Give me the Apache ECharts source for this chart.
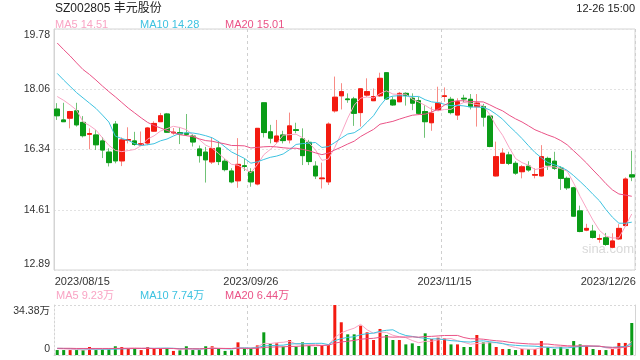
<!DOCTYPE html>
<html><head><meta charset="utf-8">
<script src="https://cdn.jsdelivr.net/npm/echarts@6/dist/echarts.min.js"></script>
<style>html,body{margin:0;padding:0;background:#fff}#c{width:640px;height:360px}</style>
</head><body><div id="c"></div>
<script>
const dates = [
'2023/08/15','2023/08/16','2023/08/17','2023/08/18','2023/08/21','2023/08/22','2023/08/23','2023/08/24','2023/08/25','2023/08/28',
'2023/08/29','2023/08/30','2023/08/31','2023/09/01','2023/09/04','2023/09/05','2023/09/06','2023/09/07','2023/09/08','2023/09/11',
'2023/09/12','2023/09/13','2023/09/14','2023/09/15','2023/09/18','2023/09/19','2023/09/20','2023/09/21','2023/09/22','2023/09/25',
'2023/09/26','2023/09/27','2023/09/28','2023/10/09','2023/10/10','2023/10/11','2023/10/12','2023/10/13','2023/10/16','2023/10/17',
'2023/10/18','2023/10/19','2023/10/20','2023/10/23','2023/10/24','2023/10/25','2023/10/26','2023/10/27','2023/10/30','2023/10/31',
'2023/11/01','2023/11/02','2023/11/03','2023/11/06','2023/11/07','2023/11/08','2023/11/09','2023/11/10','2023/11/13','2023/11/14',
'2023/11/15','2023/11/16','2023/11/17','2023/11/20','2023/11/21','2023/11/22','2023/11/23','2023/11/24','2023/11/27','2023/11/28',
'2023/11/29','2023/11/30','2023/12/01','2023/12/04','2023/12/05','2023/12/06','2023/12/07','2023/12/08','2023/12/11','2023/12/12',
'2023/12/13','2023/12/14','2023/12/15','2023/12/18','2023/12/19','2023/12/20','2023/12/21','2023/12/22','2023/12/25','2023/12/26'];
const shownDates = ['2023/08/15','2023/09/26','2023/11/15','2023/12/26'];
const splitDates = ['2023/09/26','2023/11/15'];

const opens = [17.49,17.18,17.23,17.44,17.11,16.77,16.75,16.58,16.26,17.06,
16.01,16.60,16.58,16.47,16.52,16.86,17.13,17.35,16.81,16.82,
16.80,16.72,16.35,16.26,15.98,16.38,16.00,15.72,15.44,15.87,
15.70,15.35,17.67,16.84,16.56,16.75,16.61,16.90,16.64,16.54,
15.86,15.50,15.41,17.44,17.87,17.78,17.78,17.39,17.89,17.73,
17.87,18.53,17.75,17.70,17.94,17.80,17.73,17.42,17.10,17.46,
17.85,17.77,17.32,17.80,17.77,17.56,17.56,17.29,15.58,15.94,
16.18,15.94,15.70,15.86,15.60,15.58,16.08,16.00,15.80,15.51,
15.24,14.58,14.03,14.00,13.77,13.81,13.54,13.78,14.16,15.61];
const closes = [17.30,17.13,17.42,17.04,16.73,16.79,16.47,16.32,15.96,16.01,
16.61,16.62,16.48,16.50,16.95,17.08,17.30,16.83,16.83,16.78,
16.77,16.55,16.16,16.04,16.36,15.99,15.76,15.41,15.91,15.85,
15.41,16.94,16.82,16.66,16.72,16.59,17.01,16.88,16.16,15.99,
15.58,15.52,17.06,17.83,17.99,17.76,17.37,18.07,17.99,17.85,
18.37,17.78,17.61,17.94,17.88,17.66,17.37,17.13,17.37,17.66,
17.87,17.39,17.70,17.78,17.56,17.66,17.26,16.42,16.13,16.23,
15.94,15.66,15.84,15.75,15.62,16.13,15.89,15.80,15.51,15.24,
14.43,13.99,14.08,13.82,13.79,13.62,13.72,14.08,15.49,15.55];
const lows = [17.18,17.12,16.94,16.99,16.68,16.34,16.32,16.09,15.85,15.94,
15.86,16.51,16.44,16.44,16.46,16.84,17.12,16.81,16.76,16.49,
16.72,16.42,15.96,15.39,15.92,15.89,15.71,15.37,15.24,15.72,
15.27,15.31,16.68,16.51,16.51,16.51,16.51,16.80,15.89,15.89,
15.49,15.22,15.32,17.39,17.48,17.67,17.01,16.99,17.84,17.72,
17.84,17.75,17.58,17.69,17.59,17.46,17.32,16.67,16.87,17.45,
17.70,17.34,17.18,17.68,17.48,16.99,16.99,16.40,15.56,15.92,
15.89,15.61,15.51,15.70,15.51,15.56,15.75,15.75,15.18,15.18,
14.41,13.97,14.00,13.79,13.67,13.58,13.51,13.75,14.13,15.43];
const highs = [17.66,17.67,17.44,17.67,17.29,16.94,16.89,16.69,16.37,17.15,
16.68,16.97,16.84,16.85,16.98,17.14,17.38,17.38,16.95,16.98,
17.35,16.78,16.45,16.41,16.69,16.58,16.09,15.80,16.66,16.08,
15.80,16.95,17.68,17.04,17.18,16.87,17.39,17.10,16.94,16.61,
16.00,15.96,17.11,18.42,18.23,17.94,17.84,18.08,18.37,18.08,
18.53,18.55,17.85,17.98,17.97,17.94,17.84,17.60,17.56,18.13,
18.11,17.84,17.80,17.90,17.92,17.92,17.64,17.29,16.56,16.37,
16.27,16.00,15.89,16.00,15.80,16.46,16.13,16.27,15.86,15.56,
15.27,14.73,14.21,14.18,13.91,13.95,13.94,14.20,15.54,16.30];
// volume in 万 (10k shares)
const volumes = [3.4,3.4,3.4,3.4,3.4,5.5,3.4,4.0,4.0,6.0,
5.5,4.6,4.6,3.4,5.5,4.6,4.6,4.6,2.8,3.2,
6.0,3.4,3.4,6.0,6.0,4.6,2.8,3.2,8.7,4.6,
4.6,6.6,15.6,7.8,8.0,5.7,10.3,5.7,8.7,6.2,
5.5,6.9,6.9,34.38,22.5,14.2,14.2,20.2,15.6,10.3,
17.9,13.75,10.3,10.3,7.3,8.0,6.2,14.9,11.0,11.9,
11.5,7.3,7.3,5.5,5.5,13.75,8.7,8.7,5.5,4.1,
4.1,3.4,4.1,4.1,4.1,9.6,5.5,4.1,5.5,4.1,
9.6,7.3,6.4,4.1,3.4,3.4,4.1,8.3,8.3,22.0];

// moving-average values before enough in-window days exist
const ma5Head = [17.85,17.74,17.61,17.46];
const ma10Head = [18.51,18.32,18.14,17.96,17.81,17.66,17.51,17.32,17.12];
const ma20Head = [19.38,19.19,19.01,18.81,18.62,18.48,18.32,18.15,17.99,17.84,17.68,17.52,17.38,17.24,17.11,17.02,16.95,16.88,16.82];
const vma5Head = [4.4,4.2,4.0,3.8];
const vma10Head = [4.6,4.5,4.4,4.3,4.2,4.2,4.1,4.1,4.0];
const vma20Head = [4.6,4.6,4.6,4.5,4.5,4.5,4.5,4.5,4.5,4.5,4.5,4.5,4.5,4.5,4.5,4.5,4.5,4.5,4.5];

const priceTicks = [12.89,14.61,16.34,18.06,19.78];
const volumeTicks = [0,34.38];

const titleText = 'SZ002805 丰元股份';
const timeText = '12-26 15:00';
const priceLegend = ['MA5 14.51','MA10 14.28','MA20 15.01'];
const volumeLegend = ['MA5 9.23万','MA10 7.74万','MA20 6.44万'];

const RED = '#f31a10', GREEN = '#0a9c17';
const RED_W = '#f88b85', GREEN_W = '#70c276';
const C5 = '#f9a4c4', C10 = '#3dc2e0', C20 = '#ea5286';
const FONT = "'Liberation Sans', Arial, 'Noto Sans CJK SC', sans-serif";

function movingAverage(values, n, head) {
  return values.map((v, i) => {
    if (i < n - 1) return head[i];
    let s = 0;
    for (let k = i - n + 1; k <= i; k++) s += values[k];
    return +(s / n).toFixed(3);
  });
}

const candleFull = dates.map((d, i) => [opens[i], closes[i], lows[i], highs[i]]);
const candleBody = dates.map((d, i) => [opens[i], closes[i], Math.min(opens[i], closes[i]), Math.max(opens[i], closes[i])]);
const ma5 = movingAverage(closes, 5, ma5Head);
const ma10 = movingAverage(closes, 10, ma10Head);
const ma20 = movingAverage(closes, 20, ma20Head);
const vma5 = movingAverage(volumes, 5, vma5Head);
const vma10 = movingAverage(volumes, 10, vma10Head);
const vma20 = movingAverage(volumes, 20, vma20Head);

const chart = echarts.init(document.getElementById('c'), null, {renderer: 'canvas'});
const labelRich = {
  t: {padding: [12, 0, 0, 0], fontSize: 10.5, color: '#333', fontFamily: FONT},
  b: {padding: [0, 0, 12, 0], fontSize: 10.5, color: '#333', fontFamily: FONT}
};
const lineSeries = (name, data, color, xi, yi) => ({
  name, type: 'line', data, xAxisIndex: xi, yAxisIndex: yi, showSymbol: false, symbol: 'none',
  lineStyle: {width: 1, color}, itemStyle: {color}, silent: true, z: 5
});

chart.setOption({
  animation: false,
  textStyle: {fontFamily: FONT},
  grid: [
    {left: 54, right: 5, top: 29, height: 241, show: true, borderColor: '#d4d4d4', borderWidth: 1},
    {left: 54, right: 5, top: 305, height: 50, show: false}
  ],
  xAxis: [
    {type: 'category', data: dates, gridIndex: 0, boundaryGap: true,
     axisLine: {show: false}, axisTick: {show: false},
     axisLabel: {
       interval: (i, v) => shownDates.includes(v), margin: 6, fontSize: 11, color: '#333', fontFamily: FONT,
       formatter: (v) => v === shownDates[0] ? '{l|' + v + '}' : (v === shownDates[shownDates.length - 1] ? '{r|' + v + '}' : v),
       rich: {l: {padding: [0, 0, 0, 50], fontSize: 11, color: '#333', fontFamily: FONT},
              r: {padding: [0, 47, 0, 0], fontSize: 11, color: '#333', fontFamily: FONT}}
     },
     splitLine: {show: true, interval: (i, v) => splitDates.includes(v), lineStyle: {color: '#cfcfcf', type: [3, 3], width: 1}}
    },
    {type: 'category', data: dates, gridIndex: 1, boundaryGap: true,
     axisLine: {show: true, lineStyle: {color: '#d4d4d4', type: [2, 2]}}, axisTick: {show: false}, axisLabel: {show: false},
     splitLine: {show: true, interval: (i, v) => splitDates.includes(v), lineStyle: {color: '#cfcfcf', type: [3, 3], width: 1}}
    }
  ],
  yAxis: [
    {type: 'value', gridIndex: 0, min: priceTicks[0], max: priceTicks[priceTicks.length - 1],
     axisLine: {show: true, lineStyle: {color: '#d4d4d4'}},
     axisTick: {show: false, customValues: priceTicks},
     axisLabel: {customValues: priceTicks, margin: 4, fontSize: 10.5, color: '#333', fontFamily: FONT,
       formatter: (v) => {
         const s = v.toFixed(2);
         if (Math.abs(v - priceTicks[priceTicks.length - 1]) < 1e-6) return '{t|' + s + '}';
         if (Math.abs(v - priceTicks[0]) < 1e-6) return '{b|' + s + '}';
         return s;
       }, rich: labelRich},
     splitLine: {show: true, lineStyle: {color: '#e2e2e2', type: [2, 2]}}
    },
    {type: 'value', gridIndex: 1, min: volumeTicks[0], max: volumeTicks[1],
     axisLine: {show: true, lineStyle: {color: '#d4d4d4', type: [2, 2]}},
     axisTick: {show: false, customValues: volumeTicks},
     axisLabel: {customValues: volumeTicks, margin: 4, fontSize: 10.5, color: '#333', fontFamily: FONT,
       formatter: (v) => v === volumeTicks[0] ? '{b|0}' : '{t|' + v.toFixed(2) + '万}', rich: labelRich},
     splitLine: {show: true, lineStyle: {color: '#d8d8d8', type: [2, 2]}}
    },
    {type: 'value', gridIndex: 1, position: 'right', min: 0, max: 1,
     axisLine: {show: true, lineStyle: {color: '#d4d4d4'}}, axisTick: {show: false}, axisLabel: {show: false}, splitLine: {show: false}}
  ],
  graphic: [
    {type: 'text', left: 55, top: 3, silent: true, style: {text: titleText, fill: '#222', font: '12px ' + FONT}},
    {type: 'text', right: 5, top: 3, silent: true, style: {text: timeText, fill: '#222', font: '11px ' + FONT}},
    {type: 'text', left: 55, top: 19, silent: true, style: {text: priceLegend[0], fill: C5, font: '11px ' + FONT}},
    {type: 'text', left: 140, top: 19, silent: true, style: {text: priceLegend[1], fill: C10, font: '11px ' + FONT}},
    {type: 'text', left: 225, top: 19, silent: true, style: {text: priceLegend[2], fill: C20, font: '11px ' + FONT}},
    {type: 'text', left: 56, top: 290, silent: true, style: {text: volumeLegend[0], fill: C5, font: '11px ' + FONT}},
    {type: 'text', left: 140, top: 290, silent: true, style: {text: volumeLegend[1], fill: C10, font: '11px ' + FONT}},
    {type: 'text', left: 225, top: 290, silent: true, style: {text: volumeLegend[2], fill: C20, font: '11px ' + FONT}},
    {type: 'text', left: 582, top: 243, silent: true, z: 1, style: {text: 'sina.com', fill: '#d9d9d9', font: '13px ' + FONT}}
  ],
  series: [
    {name: 'wick', type: 'candlestick', data: candleFull, xAxisIndex: 0, yAxisIndex: 0, barWidth: 5, silent: true, z: 2,
     itemStyle: {color: RED_W, color0: GREEN_W, borderColor: RED_W, borderColor0: GREEN_W, borderWidth: 1}},
    {name: 'body', type: 'candlestick', data: candleBody, xAxisIndex: 0, yAxisIndex: 0, barWidth: 5, silent: true, z: 3,
     itemStyle: {color: RED, color0: GREEN, borderColor: RED, borderColor0: GREEN, borderWidth: 1}},
    lineSeries('MA5', ma5, C5, 0, 0),
    lineSeries('MA10', ma10, C10, 0, 0),
    lineSeries('MA20', ma20, C20, 0, 0),
    {name: 'volume', type: 'bar', data: volumes, xAxisIndex: 1, yAxisIndex: 1, barWidth: 3, silent: true, z: 2,
     itemStyle: {color: (p) => closes[p.dataIndex] >= opens[p.dataIndex] ? RED : GREEN}},
    lineSeries('VMA5', vma5, C5, 1, 1),
    lineSeries('VMA10', vma10, C10, 1, 1),
    lineSeries('VMA20', vma20, C20, 1, 1)
  ]
});
</script>
</body></html>
